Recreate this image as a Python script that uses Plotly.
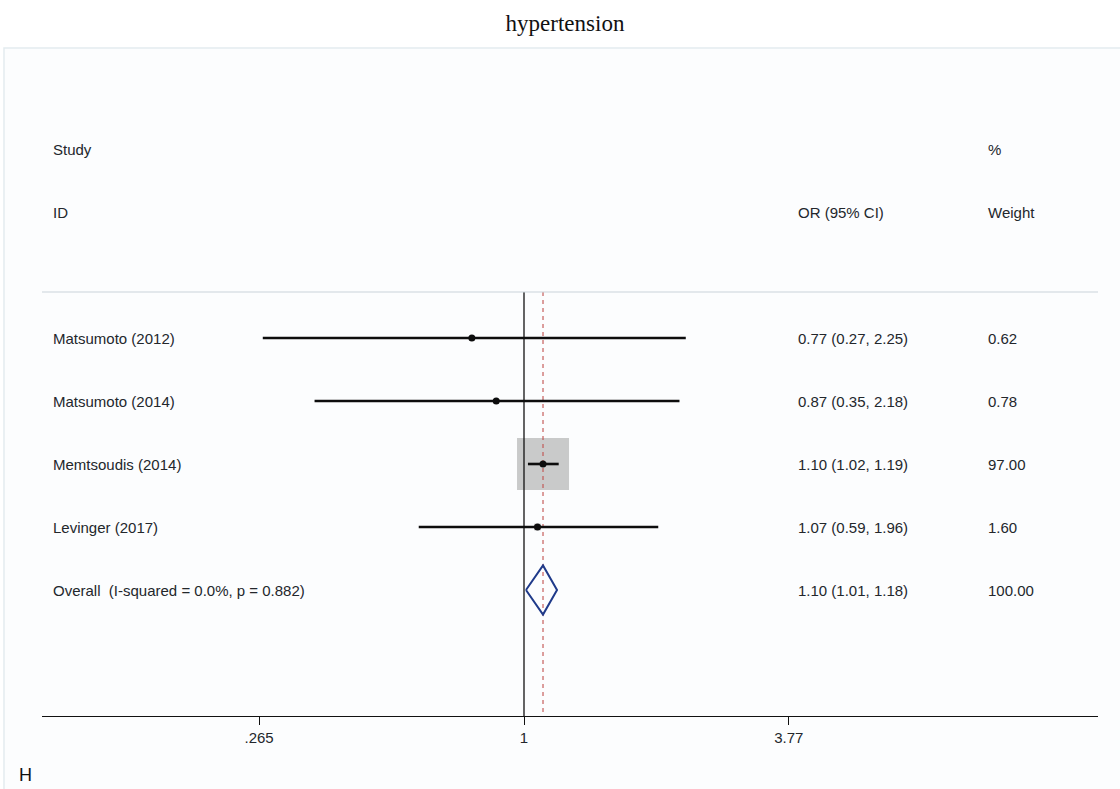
import numpy as np
import plotly.graph_objects as go

# ---------------- data ----------------
studies = ["Matsumoto (2012)", "Matsumoto (2014)", "Memtsoudis (2014)", "Levinger (2017)"]
or_est = [0.77, 0.87, 1.10, 1.07]
ci_lo = [0.27, 0.35, 1.02, 0.59]
ci_hi = [2.25, 2.18, 1.19, 1.96]
weights = [0.62, 0.78, 97.00, 1.60]
overall_label = "Overall  (I-squared = 0.0%, p = 0.882)"
overall_est = 1.10
overall_lo = 1.01
overall_hi = 1.18
overall_weight = 100.00
tick_vals = [0.265, 1, 3.77]
tick_text = [".265", "1", "3.77"]

# ---------------- layout constants ----------------
W, H = 1120, 789
ML, MR, MT, MB = 42, 22, 50, 73
PW = W - ML - MR
PH = H - MT - MB
row_px = 63.0
y_top = -(338 - MT) / row_px       # top of plot area in row units
y_bot = (716 - 338) / row_px       # bottom
hdr_line_y = -(338 - 292) / row_px

def px_x(px):
    return (px - ML) / PW

def px_y(py):
    return (716 - py) / PH

FONT = "Liberation Sans, Arial, sans-serif"
txt_font = dict(family=FONT, size=15, color="#23272c")

fig = go.Figure()

n = len(studies)
rows = list(range(n))
overall_row = n

# weight boxes
box_max = 52
sizes = [box_max * np.sqrt(w / max(weights)) for w in weights]
fig.add_trace(go.Scatter(x=or_est, y=rows, mode="markers",
                         marker=dict(symbol="square", size=sizes, color="#b3b3b3", line=dict(width=0)),
                         hoverinfo="skip", showlegend=False))

# reference line at 1
fig.add_trace(go.Scatter(x=[1, 1], y=[hdr_line_y, y_bot], mode="lines",
                         line=dict(color="#111111", width=1.3), hoverinfo="skip", showlegend=False))
# overall dashed line
fig.add_trace(go.Scatter(x=[overall_est, overall_est], y=[hdr_line_y, y_bot], mode="lines",
                         line=dict(color="#c0504d", width=1.1, dash="4px,4px"), hoverinfo="skip", showlegend=False))

# CI lines
cx, cy = [], []
for lo, hi, r in zip(ci_lo, ci_hi, rows):
    cx += [lo, hi, None]
    cy += [r, r, None]
fig.add_trace(go.Scatter(x=cx, y=cy, mode="lines", line=dict(color="#0d0d0d", width=2.6),
                         hoverinfo="skip", showlegend=False))
# point estimates
fig.add_trace(go.Scatter(x=or_est, y=rows, mode="markers",
                         marker=dict(symbol="circle", size=7, color="#0d0d0d"),
                         hoverinfo="skip", showlegend=False))

# overall diamond
dh = 0.39
fig.add_trace(go.Scatter(x=[overall_lo, overall_est, overall_hi, overall_est, overall_lo],
                         y=[overall_row, overall_row - dh, overall_row, overall_row + dh, overall_row],
                         mode="lines", line=dict(color="#1f3a8a", width=2),
                         hoverinfo="skip", showlegend=False))

annotations = []
def add_text(x_px, y_row, text, anchor="left", font=None):
    annotations.append(dict(x=px_x(x_px), xref="paper", y=y_row, yref="y", text=text,
                            showarrow=False, xanchor=anchor, yanchor="middle", font=font or txt_font))

COL_ID, COL_OR, COL_W = 51, 796, 986
# headers
add_text(COL_ID, -3, "Study")
add_text(COL_ID, -2, "ID")
add_text(COL_OR, -2, "OR (95% CI)")
add_text(COL_W, -3, "%")
add_text(COL_W, -2, "Weight")

for r, s, e, lo, hi, w in zip(rows, studies, or_est, ci_lo, ci_hi, weights):
    add_text(COL_ID, r, s)
    add_text(COL_OR, r, f"{e:.2f} ({lo:.2f}, {hi:.2f})")
    add_text(COL_W, r, f"{w:.2f}")
add_text(COL_ID, overall_row, overall_label)
add_text(COL_OR, overall_row, f"{overall_est:.2f} ({overall_lo:.2f}, {overall_hi:.2f})")
add_text(COL_W, overall_row, f"{overall_weight:.2f}")

# panel letter
annotations.append(dict(x=px_x(17), xref="paper", y=px_y(775), yref="paper", text="H",
                        showarrow=False, xanchor="left", yanchor="middle",
                        font=dict(family=FONT, size=18, color="#111111")))

shapes = [
    # outer light panel
    dict(type="rect", xref="paper", yref="paper", x0=px_x(4), x1=px_x(1125), y0=px_y(795), y1=px_y(48),
         line=dict(color="#e3ecf0", width=1.5), fillcolor="#fcfdfe", layer="below"),
    # header separator
    dict(type="line", xref="paper", yref="y", x0=0, x1=1, y0=hdr_line_y, y1=hdr_line_y,
         line=dict(color="#c9d3da", width=1.2)),
]

fig.update_layout(
    width=W, height=H,
    margin=dict(l=ML, r=MR, t=MT, b=MB),
    paper_bgcolor="white", plot_bgcolor="rgba(0,0,0,0)",
    title=dict(text="hypertension", x=565 / W, xanchor="center", y=1 - 23 / H, yanchor="middle",
               font=dict(family="Liberation Serif, Times New Roman, serif", size=23, color="#111111")),
    xaxis=dict(type="log", range=[np.log10(np.exp((ML - 524) / 199.5)), np.log10(np.exp((W - MR - 524) / 199.5))],
               tickvals=tick_vals, ticktext=tick_text, ticks="outside", ticklen=8, tickwidth=1.2,
               tickcolor="#111111", showline=True, linecolor="#111111", linewidth=1.4,
               showgrid=False, zeroline=False, fixedrange=True,
               tickfont=dict(family=FONT, size=15, color="#23272c")),
    yaxis=dict(range=[y_bot, y_top], visible=False, showgrid=False, zeroline=False, fixedrange=True),
    annotations=annotations,
    shapes=shapes,
    showlegend=False,
)

fig.write_html("out.html", config={"displayModeBar": False},
               post_script="document.body.style.margin='0';document.body.style.padding='0';")
